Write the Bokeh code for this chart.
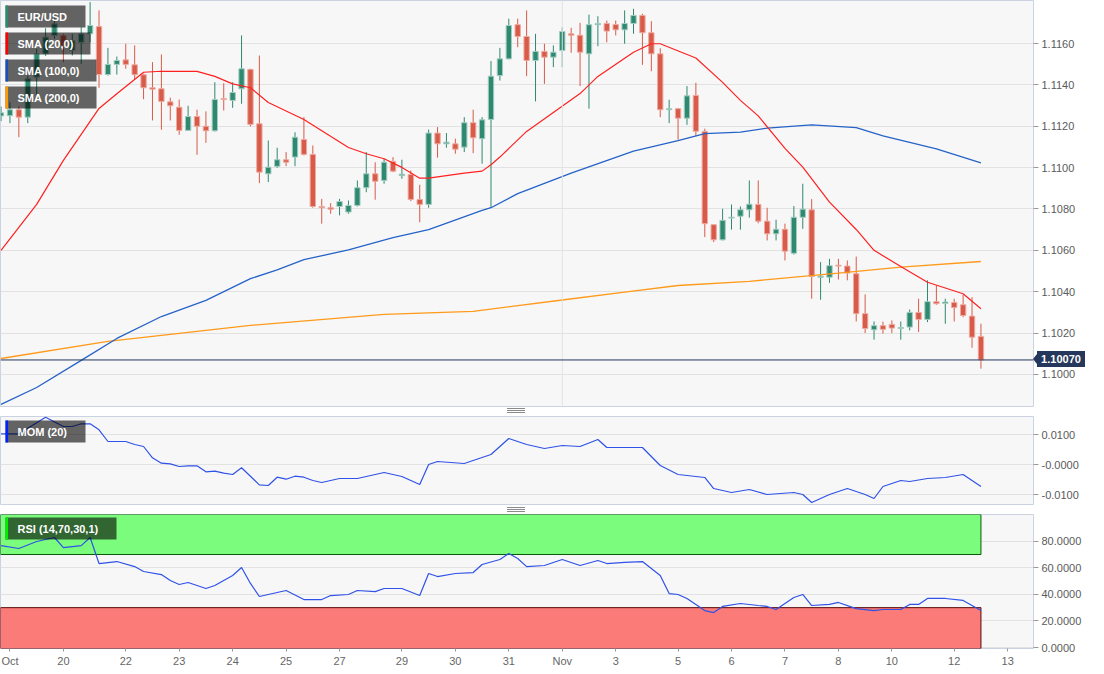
import numpy as np
from bokeh.plotting import figure
from bokeh.layouts import column
from bokeh.models import (ColumnDataSource, FixedTicker, Range1d, Span, BoxAnnotation,
                          Label, PrintfTickFormatter, Div)
from bokeh.embed import file_html
from bokeh.resources import INLINE

# ---------------- data (EUR/USD, 4h candles) ----------------
opens = [1.11250, 1.11251, 1.11280, 1.11244, 1.11437, 1.11550, 1.11639, 1.11639, 1.11566, 1.11606,
         1.11647, 1.11682, 1.11450, 1.11499, 1.11521, 1.11497, 1.11449, 1.11386, 1.11381, 1.11318,
         1.11292, 1.11180, 1.11247, 1.11200, 1.11178, 1.11334, 1.11325, 1.11381, 1.11475, 1.11212,
         1.10970, 1.11006, 1.11038, 1.11051, 1.11136, 1.11064, 1.10812, 1.10806, 1.10812, 1.10785,
         1.10817, 1.10903, 1.10970, 1.10938, 1.11030, 1.10961, 1.10967, 1.10846, 1.10822, 1.11167,
         1.11115, 1.11115, 1.11099, 1.11217, 1.11140, 1.11233, 1.11445, 1.11526, 1.11691, 1.11634,
         1.11518, 1.11562, 1.11534, 1.11566, 1.11647, 1.11640, 1.11550, 1.11691, 1.11697, 1.11692,
         1.11666, 1.11697, 1.11736, 1.11652, 1.11550, 1.11280, 1.11285, 1.11239, 1.11349, 1.11175,
         1.10724, 1.10651, 1.10756, 1.10765, 1.10796, 1.10822, 1.10741, 1.10680, 1.10702, 1.10586,
         1.10760, 1.10796, 1.10470, 1.10470, 1.10528, 1.10524, 1.10487, 1.10294, 1.10216, 1.10236,
         1.10242, 1.10222, 1.10229, 1.10300, 1.10266, 1.10352, 1.10343, 1.10348, 1.10337, 1.10282,
         1.10184]
highs = [1.11295, 1.11316, 1.11296, 1.11445, 1.11574, 1.11674, 1.11744, 1.11647, 1.11647, 1.11679,
         1.11800, 1.11760, 1.11579, 1.11537, 1.11599, 1.11591, 1.11454, 1.11510, 1.11547, 1.11338,
         1.11329, 1.11299, 1.11280, 1.11272, 1.11413, 1.11408, 1.11413, 1.11639, 1.11478, 1.11542,
         1.11131, 1.11096, 1.11075, 1.11171, 1.11244, 1.11107, 1.10849, 1.10828, 1.10849, 1.10841,
         1.10938, 1.11075, 1.11026, 1.11043, 1.11051, 1.11038, 1.10986, 1.10917, 1.11184, 1.11196,
         1.11167, 1.11140, 1.11244, 1.11280, 1.11244, 1.11515, 1.11579, 1.11720, 1.11720, 1.11760,
         1.11647, 1.11599, 1.11591, 1.11679, 1.11676, 1.11700, 1.11740, 1.11732, 1.11711, 1.11711,
         1.11760, 1.11768, 1.11744, 1.11708, 1.11577, 1.11328, 1.11287, 1.11394, 1.11410, 1.11188,
         1.10726, 1.10801, 1.10822, 1.10812, 1.10938, 1.10938, 1.10806, 1.10748, 1.10729, 1.10814,
         1.10922, 1.10848, 1.10543, 1.10559, 1.10559, 1.10551, 1.10570, 1.10387, 1.10256, 1.10255,
         1.10261, 1.10256, 1.10314, 1.10366, 1.10455, 1.10430, 1.10366, 1.10366, 1.10385, 1.10374,
         1.10245]
lows = [1.11225, 1.11215, 1.11147, 1.11215, 1.11349, 1.11540, 1.11623, 1.11510, 1.11542, 1.11502,
        1.11606, 1.11386, 1.11445, 1.11450, 1.11478, 1.11425, 1.11331, 1.11228, 1.11183, 1.11228,
        1.11159, 1.11178, 1.11062, 1.11120, 1.11175, 1.11276, 1.11289, 1.11309, 1.11199, 1.10925,
        1.10930, 1.10999, 1.11007, 1.11007, 1.11059, 1.10806, 1.10729, 1.10777, 1.10769, 1.10777,
        1.10812, 1.10881, 1.10845, 1.10922, 1.10978, 1.10946, 1.10838, 1.10736, 1.10806, 1.11048,
        1.11096, 1.11067, 1.11075, 1.11070, 1.11019, 1.10809, 1.11421, 1.11523, 1.11582, 1.11442,
        1.11320, 1.11405, 1.11486, 1.11486, 1.11555, 1.11394, 1.11285, 1.11587, 1.11606, 1.11639,
        1.11599, 1.11647, 1.11497, 1.11466, 1.11244, 1.11215, 1.11135, 1.11207, 1.11152, 1.10664,
        1.10640, 1.10648, 1.10700, 1.10700, 1.10758, 1.10731, 1.10648, 1.10648, 1.10551, 1.10580,
        1.10704, 1.10366, 1.10361, 1.10443, 1.10459, 1.10455, 1.10256, 1.10200, 1.10168, 1.10197,
        1.10200, 1.10168, 1.10213, 1.10205, 1.10253, 1.10337, 1.10245, 1.10256, 1.10277, 1.10129,
        1.10028]
closes = [1.11265, 1.11280, 1.11244, 1.11430, 1.11550, 1.11631, 1.11695, 1.11591, 1.11615, 1.11647,
          1.11687, 1.11450, 1.11499, 1.11518, 1.11499, 1.11449, 1.11386, 1.11379, 1.11320, 1.11299,
          1.11180, 1.11247, 1.11200, 1.11178, 1.11329, 1.11329, 1.11363, 1.11478, 1.11209, 1.10978,
          1.11002, 1.11038, 1.11026, 1.11147, 1.11064, 1.10812, 1.10806, 1.10799, 1.10836, 1.10817,
          1.10903, 1.10970, 1.10934, 1.11026, 1.10983, 1.10968, 1.10846, 1.10822, 1.11167, 1.11115,
          1.11123, 1.11089, 1.11217, 1.11144, 1.11231, 1.11442, 1.11526, 1.11687, 1.11634, 1.11518,
          1.11562, 1.11534, 1.11558, 1.11658, 1.11640, 1.11558, 1.11691, 1.11697, 1.11660, 1.11666,
          1.11697, 1.11736, 1.11652, 1.11550, 1.11280, 1.11285, 1.11239, 1.11347, 1.11176, 1.10729,
          1.10651, 1.10745, 1.10760, 1.10796, 1.10823, 1.10741, 1.10680, 1.10702, 1.10596, 1.10760,
          1.10799, 1.10474, 1.10475, 1.10526, 1.10524, 1.10490, 1.10294, 1.10222, 1.10236, 1.10218,
          1.10224, 1.10227, 1.10300, 1.10266, 1.10352, 1.10342, 1.10350, 1.10323, 1.10285, 1.10180,
          1.10070]

# moving averages (candle index, value)
sma20_idx = [0, 4, 7, 11, 13, 16, 18, 22, 24, 26, 28, 30, 34, 39, 41, 43, 45, 47, 48, 52, 54, 55,
             56, 59, 62, 65, 67, 71, 73, 74, 78, 81, 83, 85, 88, 90, 93, 96, 98, 101, 104, 108, 110]
sma20_val = [1.10600, 1.10822, 1.11035, 1.11286, 1.11357, 1.11461, 1.11466, 1.11465, 1.11441,
             1.11405, 1.11386, 1.11315, 1.11233, 1.11097, 1.11067, 1.11043, 1.11001, 1.10949,
             1.10949, 1.10973, 1.10983, 1.11014, 1.11051, 1.11175, 1.11267, 1.11358, 1.11441,
             1.11558, 1.11599, 1.11599, 1.11530, 1.11412, 1.11325, 1.11250, 1.11093, 1.11002,
             1.10833, 1.10701, 1.10600, 1.10522, 1.10446, 1.10390, 1.10318]
sma100_idx = [0, 4, 9, 13, 18, 23, 28, 31, 34, 39, 44, 48, 54, 55, 58, 64, 71, 76, 79, 83, 86, 91,
              96, 99, 105, 110]
sma100_val = [1.09855, 1.09937, 1.10068, 1.10174, 1.10280, 1.10358, 1.10463, 1.10506, 1.10555,
              1.10602, 1.10661, 1.10700, 1.10793, 1.10806, 1.10874, 1.10973, 1.11080, 1.11131,
              1.11164, 1.11172, 1.11191, 1.11207, 1.11193, 1.11153, 1.11091, 1.11023]
sma200_idx = [0, 12, 28, 43, 53, 63, 70, 76, 84, 94, 101, 110]
sma200_val = [1.10077, 1.10160, 1.10237, 1.10290, 1.10305, 1.10360, 1.10398, 1.10430, 1.10450,
              1.10490, 1.10519, 1.10546]

mom_idx = [0, 2, 5, 7, 8, 9, 10, 11, 12, 14, 15, 16, 17, 18, 19, 20, 21, 22, 23, 24, 25, 26, 27,
           29, 30, 31, 32, 33, 34, 35, 36, 38, 40, 43, 45, 47, 48, 49, 52, 53, 55, 57, 59, 61, 63,
           65, 67, 68, 72, 74, 76, 79, 80, 82, 84, 86, 89, 90, 91, 93, 95, 97, 98, 99, 101, 102,
           104, 106, 108, 110]
mom_val = [0.01023, 0.01023, 0.01577, 0.01267, 0.01267, 0.01357, 0.01357, 0.01157, 0.00767,
           0.00767, 0.00667, 0.00600, 0.00223, 0.00043, 0.00023, -0.00067, -0.00043, -0.00043,
           -0.00243, -0.00223, -0.00290, -0.00333, -0.00110, -0.00677, -0.00700, -0.00423,
           -0.00490, -0.00390, -0.00423, -0.00533, -0.00600, -0.00467, -0.00467, -0.00267,
           -0.00400, -0.00667, 0.00000, 0.00100, 0.00033, 0.00133, 0.00333, 0.00867, 0.00667,
           0.00533, 0.00633, 0.00600, 0.00833, 0.00567, 0.00567, -0.00033, -0.00333, -0.00433,
           -0.00800, -0.00933, -0.00833, -0.01000, -0.00933, -0.01000, -0.01267, -0.01000,
           -0.00800, -0.01000, -0.01133, -0.00733, -0.00533, -0.00567, -0.00467, -0.00433,
           -0.00333, -0.00733]

rsi_idx = [0, 2, 4, 6, 7, 9, 10, 11, 13, 15, 16, 18, 19, 20, 21, 23, 24, 26, 27, 28, 29, 31, 32,
           34, 36, 37, 39, 40, 42, 43, 45, 47, 48, 49, 51, 53, 54, 56, 57, 58, 59, 61, 63, 65, 67,
           68, 70, 72, 74, 75, 76, 77, 79, 80, 81, 83, 85, 86, 87, 89, 90, 91, 93, 94, 96, 98, 99,
           101, 102, 103, 104, 106, 108, 109, 110]
rsi_val = [76.7, 74.5, 79.8, 82.8, 75.2, 76.7, 82.8, 63.2, 64.7, 60.9, 57.2, 54.9, 50.4, 47.4,
           48.9, 44.4, 46.7, 54.2, 60.2, 48.2, 38.4, 41.4, 42.9, 36.1, 36.1, 39.1, 39.9, 42.9,
           42.1, 44.4, 44.4, 39.1, 55.7, 53.4, 55.7, 56.4, 62.5, 66.2, 70.7, 67.0, 60.9, 61.7,
           66.2, 61.7, 65.5, 63.2, 64.0, 64.7, 54.2, 40.6, 39.9, 36.9, 27.8, 26.3, 30.9, 33.1,
           31.6, 30.9, 28.6, 37.6, 39.9, 31.6, 32.4, 33.9, 29.3, 27.8, 28.6, 28.6, 32.4, 32.4,
           36.9, 36.9, 35.4, 31.6, 27.8]

tick_pos = [1.0, 7, 14, 20, 26, 32, 38, 45, 51, 57, 63, 69, 76, 82, 88, 94, 100, 107, 113]
tick_lab = ["Oct", "20", "22", "23", "24", "25", "27", "29", "30", "31", "Nov", "3", "5", "6",
            "7", "8", "10", "12", "13"]
last_price = 1.10070
last_label = "1.10070"

# ---------------- styling ----------------
FONT = "Liberation Sans"
GREEN, GREEN_EDGE = "#2f8870", "#a3cdc0"
RED, RED_EDGE = "#d85a48", "#eeaaa1"
NAVY = "#25375a"
BG = "#f7f7f7"
OUTLINE = "#cbd3e3"
GRID = "#e2e2e2"

X0, X1 = -0.06, 115.9
FW = 1033


def xd(px):
    return X0 + px / FW * (X1 - X0)


def make_fig(height, y0, y1, top_border, bottom_border, show_x=False):
    p = figure(width=1104, height=height, output_backend="svg", toolbar_location=None,
               x_range=Range1d(X0, X1), y_range=Range1d(y0, y1),
               y_axis_location="right", x_axis_location="below" if show_x else None,
               min_border_left=0, min_border_right=71, min_border_top=top_border,
               min_border_bottom=bottom_border)
    p.background_fill_color = BG
    p.border_fill_color = "white"
    p.outline_line_color = OUTLINE
    p.outline_line_width = 1
    p.xgrid.grid_line_color = None
    p.ygrid.grid_line_color = GRID
    ax = p.yaxis[0]
    ax.axis_line_color = None
    ax.major_tick_in = 0
    ax.major_tick_out = 5
    ax.major_tick_line_color = "#9a9a9a"
    ax.minor_tick_line_color = None
    ax.major_label_text_color = "#5a5a5a"
    ax.major_label_text_font = FONT
    ax.major_label_text_font_size = "11px"
    ax.major_label_standoff = 3
    return p


def add_tag(p, yfun, x0, x1, ytop, ybot, stripe, text):
    p.add_layout(BoxAnnotation(left=xd(x0), right=xd(x1), top=yfun(ytop), bottom=yfun(ybot),
                               fill_color="black", fill_alpha=0.6, line_color=None))
    p.add_layout(BoxAnnotation(left=xd(x0), right=xd(x0 + 2.6), top=yfun(ytop), bottom=yfun(ybot),
                               fill_color=stripe, fill_alpha=1.0, line_color=None))
    p.add_layout(Label(x=xd(17), y=yfun((ytop + ybot) / 2), text=text, text_color="white",
                       text_font=FONT, text_font_size="11px", text_font_style="bold",
                       text_baseline="middle", text_align="left"))


# ---------------- main price panel ----------------
Y_TOP, Y_BOT = 1.11808, 1.09845


def ym(py):
    return Y_TOP - py / 406 * (Y_TOP - Y_BOT)


p1 = make_fig(411, Y_BOT, Y_TOP, 0, 5)
p1.yaxis.ticker = FixedTicker(ticks=[1.100, 1.102, 1.104, 1.106, 1.108, 1.110, 1.112, 1.114, 1.116])
p1.yaxis.formatter = PrintfTickFormatter(format="%.4f")
p1.add_layout(Span(location=63, dimension="height", line_color=GRID, line_width=1))

idx = list(range(len(opens)))
up = [c >= o for o, c in zip(opens, closes)]
src = ColumnDataSource(dict(
    x=idx, high=highs, low=lows,
    top=[max(o, c) for o, c in zip(opens, closes)],
    bottom=[min(o, c) for o, c in zip(opens, closes)],
    fill=[GREEN if u else RED for u in up],
    edge=[GREEN_EDGE if u else RED_EDGE for u in up],
))
p1.segment(x0="x", y0="high", x1="x", y1="low", source=src, line_color="fill", line_width=1)
p1.vbar(x="x", top="top", bottom="bottom", width=0.6, source=src, fill_color="fill",
        line_color="edge", line_width=1)

p1.line(sma200_idx, sma200_val, line_color="#ff9a1a", line_width=1.3)
p1.line(sma100_idx, sma100_val, line_color="#2563c9", line_width=1.3)
p1.line(sma20_idx, sma20_val, line_color="#ff2020", line_width=1.2)

p1.add_layout(Span(location=last_price, dimension="width", line_color=NAVY, line_width=1))

add_tag(p1, ym, 5, 85, 5, 27, "#2f8870", "EUR/USD")
add_tag(p1, ym, 5, 90, 32, 54, "#ff0000", "SMA (20,0)")
add_tag(p1, ym, 5, 96, 59, 81, "#1a4fb5", "SMA (100,0)")
add_tag(p1, ym, 5, 96, 86, 108, "#ff9900", "SMA (200,0)")

# ---------------- momentum panel ----------------
M_TOP, M_BOT = 0.016, -0.01333


def ymo(py):
    return M_TOP - (py - 416) / 88 * (M_TOP - M_BOT)


p2 = make_fig(98, M_BOT, M_TOP, 5, 5)
p2.yaxis.ticker = FixedTicker(ticks=[-0.01, 0.0, 0.01])
p2.yaxis.major_label_overrides = {-0.01: "-0.0100", 0: "-0.0000", 0.01: "0.0100"}
p2.line(mom_idx, mom_val, line_color="#2f52e8", line_width=1.2)
add_tag(p2, ymo, 5, 85, 420, 442, "#0022ff", "MOM (20)")

# ---------------- RSI panel ----------------
R_TOP, R_BOT = 100.1, -0.75


def yr(py):
    return R_TOP - (py - 514) / 134 * (R_TOP - R_BOT)


p3 = make_fig(165, R_BOT, R_TOP, 5, 26, show_x=True)
p3.yaxis.ticker = FixedTicker(ticks=[0, 20, 40, 60, 80])
p3.yaxis.formatter = PrintfTickFormatter(format="%.4f")
xa = p3.xaxis[0]
xa.ticker = FixedTicker(ticks=tick_pos)
xa.major_label_overrides = {t: l for t, l in zip(tick_pos, tick_lab)}
xa.axis_line_color = None
xa.major_tick_in = 0
xa.major_tick_out = 3
xa.major_tick_line_color = "#9a9a9a"
xa.minor_tick_line_color = None
xa.major_label_text_color = "#666666"
xa.major_label_text_font = FONT
xa.major_label_text_font_size = "11px"
xa.major_label_standoff = 3

last_x = len(opens) - 1
p3.quad(left=[X0], right=[last_x], bottom=[70], top=[R_TOP], fill_color="#7cfc7c",
        line_color="#0a5a0a", line_width=1)
p3.quad(left=[X0], right=[last_x], bottom=[R_BOT], top=[30], fill_color="#fa7b78",
        line_color="#5a0a0a", line_width=1)
p3.line(rsi_idx, rsi_val, line_color="#2f52e8", line_width=1.2)
add_tag(p3, yr, 5, 116, 517, 539, "#00ee00", "RSI (14,70,30,1)")

# ---------------- last-price tag on the price axis (HTML overlay via negative margins) ----------------
tag = Div(text=last_label, width=52, height=16, margin=(-60, 0, 44, 1033),
          styles={"position": "relative", "z-index": "10", "background-color": NAVY,
                  "color": "white", "font-family": FONT, "font-size": "11px",
                  "font-weight": "bold", "line-height": "16px", "text-align": "center",
                  "box-sizing": "border-box", "padding-left": "4px", "overflow": "hidden",
                  "clip-path": "polygon(0px 8px, 4px 3px, 4px 0px, 100% 0px, 100% 100%, 4px 100%, 4px 13px)"})


def handle(margin):
    return Div(text="", width=18, height=5, margin=margin,
               styles={"position": "relative", "z-index": "10", "box-sizing": "border-box",
                       "border-top": "1px solid #8a8a8a", "border-bottom": "1px solid #8a8a8a",
                       "background": "linear-gradient(#8a8a8a, #8a8a8a) center / 100% 1px no-repeat"})


h1 = handle((-3, 0, -2, 507))
h2 = handle((-2, 0, -3, 507))

layout = column(p1, h1, tag, p2, h2, p3, spacing=0)
open("out.html", "w").write(file_html(layout, INLINE))
